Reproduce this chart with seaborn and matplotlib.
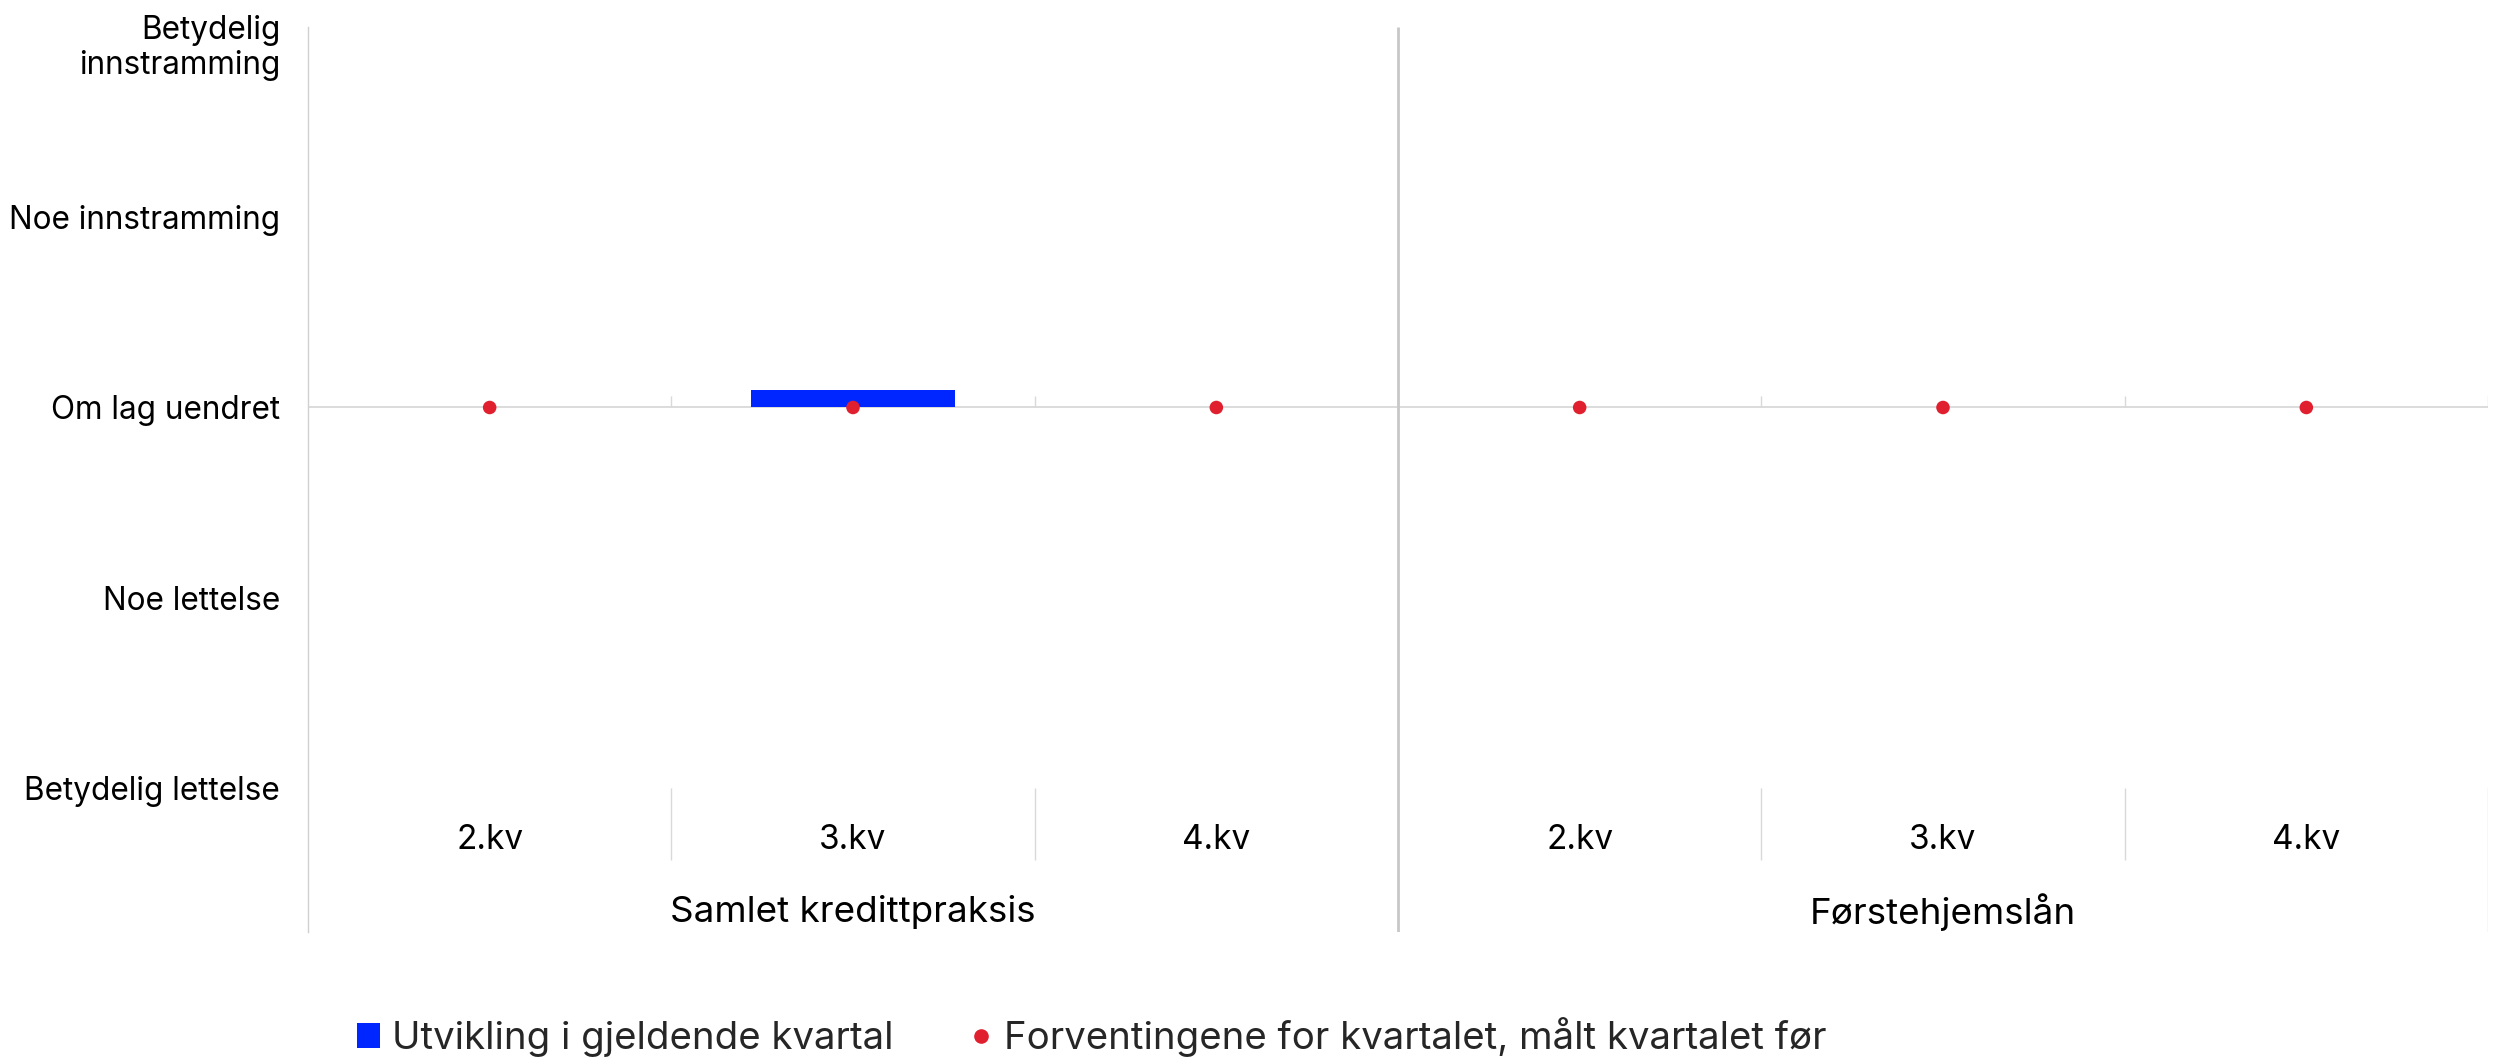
import numpy as np
import pandas as pd
import seaborn as sns
from matplotlib import pyplot as plt
from matplotlib.lines import Line2D
from matplotlib.patches import Patch
from matplotlib.transforms import ScaledTranslation

# data
groups = ["Samlet kredittpraksis", "Førstehjemslån"]
quarters = ["2.kv", "3.kv", "4.kv"]
utvikling = [0.0, 0.09, 0.0, 0.0, 0.0, 0.0]      # blue bars
forventning = [0.0, 0.0, 0.0, 0.0, 0.0, 0.0]    # red dots
level_values = [-2, -1, 0, 1, 2]
level_labels = ["Betydelig lettelse", "Noe lettelse", "Om lag uendret",
                "Noe innstramming", "Betydelig\ninnstramming"]
legend_labels = ["Utvikling i gjeldende kvartal",
                 "Forventingene for kvartalet, målt kvartalet før"]

BLUE = "#0026ff"
RED = "#e0202e"
GRID = "#d9d9d9"

df = pd.DataFrame({
    "pos": np.arange(len(groups) * len(quarters)),
    "utvikling": utvikling,
    "forventning": forventning,
})

sns.set_theme(style="white")
plt.rcParams["font.family"] = ["Inter", "DejaVu Sans"]

fig = plt.figure(figsize=(25.04, 10.60), dpi=100)
ax = fig.add_axes([308 / 2504, 1 - 932 / 1060, 2180 / 2504, 905 / 1060])

y_bottom = -2.757
ax.axhline(0, color=GRID, lw=1.3, zorder=1)

sns.barplot(data=df, x="pos", y="utvikling", native_scale=True, color=BLUE,
            saturation=1, width=0.56, errorbar=None, linewidth=0,
            edgecolor="none", ax=ax, zorder=2)
sns.scatterplot(data=df, x="pos", y="forventning", color=RED, s=95,
                edgecolor="none", ax=ax, zorder=4, legend=False)

ax.set_xlim(-0.5, 5.5)
ax.set_ylim(y_bottom, 2)
ax.set_xticks([])
ax.set_xlabel("")
ax.set_ylabel("")

ax.set_yticks(level_values, level_labels)
ax.tick_params(axis="y", direction="in", length=7.5, width=1, color="#d0d0d0",
               pad=20, labelsize=22.7, labelcolor="black")
top_lab = ax.get_yticklabels()[-1]
top_lab.set_linespacing(1.15)
top_lab.set_transform(top_lab.get_transform() +
                      ScaledTranslation(0, -0.16, fig.dpi_scale_trans))

for side in ["top", "right", "bottom"]:
    ax.spines[side].set_visible(False)
ax.spines["left"].set_color("#d0d0d0")
ax.spines["left"].set_linewidth(1)

# separators in the category area and small ticks on the zero line
inner = [0.5, 1.5, 3.5, 4.5]
ax.vlines(inner, -2, -2.378, color=GRID, lw=1)
ax.vlines(inner + [5.5], 0, 0.063, color=GRID, lw=1)
ax.vlines([5.5], -2, y_bottom, color=GRID, lw=1)
ax.vlines([2.5], y_bottom, 2, color="#c8c8c8", lw=2)

for i, pos in enumerate(df["pos"]):
    ax.text(pos, -2.273, quarters[i % 3], ha="center", va="center",
            fontsize=24, color="black")
for g, name in enumerate(groups):
    ax.text(g * 3 + 1, -2.652, name, ha="center", va="center",
            fontsize=26.5, color="black")

handles = [Patch(facecolor=BLUE, edgecolor="none"),
           Line2D([], [], marker="o", ls="", color=RED, markersize=9.5)]
fig.legend(handles, legend_labels, loc="center left",
           bbox_to_anchor=(357 / 2504, 1 - 1037 / 1060), ncol=2, frameon=False,
           fontsize=27.6, handlelength=0.6, handleheight=0.6, handletextpad=0.3,
           columnspacing=2.0, borderaxespad=0, borderpad=0)

fig.savefig("out.png", dpi=100)
